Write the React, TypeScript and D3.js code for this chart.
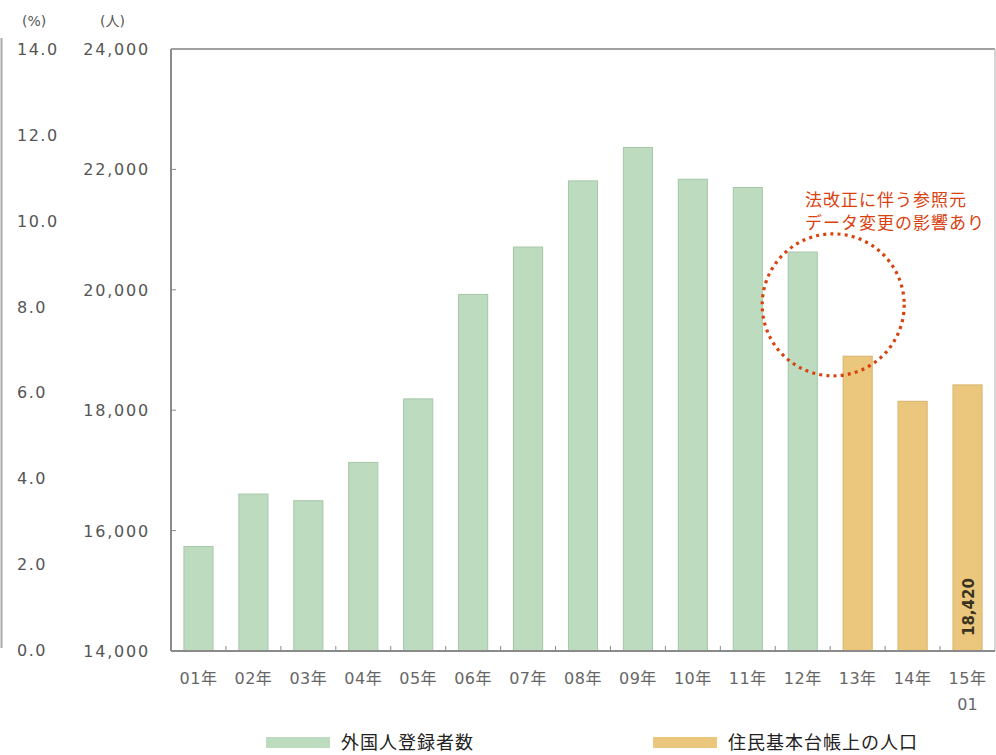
import React from 'react';
import * as d3 from 'd3';

const categories = ['01年', '02年', '03年', '04年', '05年', '06年', '07年', '08年', '09年', '10年', '11年', '12年', '13年', '14年', '15年'];
const categorySubLabels = ['', '', '', '', '', '', '', '', '', '', '', '', '', '', '01'];
const foreignRegistered: (number | null)[] = [15735, 16607, 16496, 17133, 18188, 19923, 20710, 21809, 22364, 21837, 21699, 20627, null, null, null];
const residentRegistry: (number | null)[] = [null, null, null, null, null, null, null, null, null, null, null, null, 18897, 18148, 18420];
const peopleTicks = [14000, 16000, 18000, 20000, 22000, 24000];
const percentTicks = [0, 2, 4, 6, 8, 10, 12, 14];
const seriesNames = ['外国人登録者数', '住民基本台帳上の人口'];
const labeledIndex = 14;
const noteLines = ['法改正に伴う参照元', 'データ変更の影響あり'];
const noteCenterValue = 19750;

const W = 996;
const H = 755;
const left = 171;
const right = 995;
const top = 49;
const bottom = 651;

const GREEN = '#bddcbf';
const GREEN_STROKE = '#a6c6a9';
const ORANGE = '#ebc77d';
const ORANGE_STROKE = '#d6b36c';
const NOTE = '#d9410f';
const AXIS_TEXT = '#555';
const NUM_FONT = '"DejaVu Sans", "Noto Sans CJK JP", sans-serif';
const CJK_FONT = '"Noto Sans CJK JP", sans-serif';

export default function App() {
  const x = d3.scaleBand<string>().domain(categories).range([left, right]).paddingInner(0.47).paddingOuter(0.235);
  const xStep = d3.scaleBand<string>().domain(categories).range([left, right]);
  const y = d3.scaleLinear().domain([14000, 24000]).range([bottom, top]);
  const yp = d3.scaleLinear().domain([0, 14]).range([bottom - 1, top]);
  const fmt = d3.format(',');

  const bars: { cat: string; v: number; fill: string; stroke: string }[] = [];
  categories.forEach((c, i) => {
    const a = foreignRegistered[i];
    if (a != null) bars.push({ cat: c, v: a, fill: GREEN, stroke: GREEN_STROKE });
    const b = residentRegistry[i];
    if (b != null) bars.push({ cat: c, v: b, fill: ORANGE, stroke: ORANGE_STROKE });
  });

  const labelCat = categories[labeledIndex];
  const labelX = (x(labelCat) ?? 0) + x.bandwidth() / 2;
  const circleCx = (xStep(categories[12]) ?? 0) + 3;
  const circleCy = y(noteCenterValue);

  return (
    <svg width={W} height={H} style={{ position: 'absolute', left: 0, top: 0, display: 'block', background: '#fff' }}>
      {/* left percent axis line */}
      <line x1={1.5} x2={1.5} y1={38} y2={648} stroke="#aaa" strokeWidth={2} />
      {/* axis unit headers */}
      <text x={22} y={26} fontFamily={NUM_FONT} fontSize={14} fill={AXIS_TEXT}>(%)</text>
      <text x={100} y={26} fontFamily={NUM_FONT} fontSize={14} fill={AXIS_TEXT}>(人)</text>

      {percentTicks.map((t) => (
        <text key={'p' + t} x={17} y={yp(t) + 6} fontFamily={NUM_FONT} fontSize={16} letterSpacing={1.5} fill={AXIS_TEXT}>
          {t.toFixed(1)}
        </text>
      ))}
      {peopleTicks.map((t) => (
        <text key={'n' + t} x={150} y={y(t) + 6} textAnchor="end" fontFamily={NUM_FONT} fontSize={16} letterSpacing={1.8} fill={AXIS_TEXT}>
          {fmt(t)}
        </text>
      ))}

      {/* bars */}
      {bars.map((b, i) => (
        <rect
          key={i}
          x={x(b.cat)}
          y={y(b.v)}
          width={x.bandwidth()}
          height={y(14000) - y(b.v)}
          fill={b.fill}
          stroke={b.stroke}
          strokeWidth={1}
        />
      ))}

      {/* frame */}
      <line x1={left} x2={right} y1={top} y2={top} stroke="#a0a0a0" strokeWidth={2} />
      <line x1={right} x2={right} y1={top} y2={bottom} stroke="#c8c8c8" strokeWidth={1.5} />
      <line x1={left} x2={left} y1={top} y2={bottom} stroke="#8a8a8a" strokeWidth={2} />
      <line x1={left} x2={right} y1={bottom} y2={bottom} stroke="#8a8a8a" strokeWidth={2} />
      {peopleTicks.slice(1, -1).map((t) => (
        <line key={'yt' + t} x1={left} x2={left + 5} y1={y(t)} y2={y(t)} stroke="#8a8a8a" strokeWidth={1} />
      ))}
      {categories.slice(1).map((c) => (
        <line key={'xt' + c} x1={xStep(c)} x2={xStep(c)} y1={bottom} y2={bottom - 5} stroke="#8a8a8a" strokeWidth={1} />
      ))}

      {/* x labels */}
      {categories.map((c, i) => {
        const cx = (xStep(c) ?? 0) + xStep.bandwidth() / 2;
        return (
          <g key={'xl' + c}>
            <text x={cx} y={684} textAnchor="middle" fontFamily={NUM_FONT} fontSize={16} letterSpacing={0.5} fill="#666">{c}</text>
            {categorySubLabels[i] && (
              <text x={cx} y={710} textAnchor="middle" fontFamily={NUM_FONT} fontSize={16} fill="#666">{categorySubLabels[i]}</text>
            )}
          </g>
        );
      })}

      {/* value label */}
      <text
        transform={`translate(${labelX + 6},${bottom - 15}) rotate(-90)`}
        fontFamily={NUM_FONT}
        fontSize={15}
        fontWeight="bold"
        fill="#3a3320"
      >
        {fmt(residentRegistry[labeledIndex] as number)}
      </text>

      {/* annotation */}
      <circle cx={circleCx} cy={circleCy} r={71} fill="none" stroke={NOTE} strokeWidth={3.2} strokeDasharray="3 4.2" />
      {noteLines.map((l, i) => (
        <text key={'nl' + i} x={805} y={206 + i * 23} fontFamily={CJK_FONT} fontSize={17} letterSpacing={1} fill={NOTE}>{l}</text>
      ))}

      {/* legend */}
      <rect x={266} y={737} width={64} height={11} fill={GREEN} />
      <text x={341} y={749} fontFamily={CJK_FONT} fontSize={18} letterSpacing={1} fill="#222">{seriesNames[0]}</text>
      <rect x={653} y={737} width={64} height={11} fill={ORANGE} />
      <text x={728} y={749} fontFamily={CJK_FONT} fontSize={18} letterSpacing={1} fill="#222">{seriesNames[1]}</text>
    </svg>
  );
}
